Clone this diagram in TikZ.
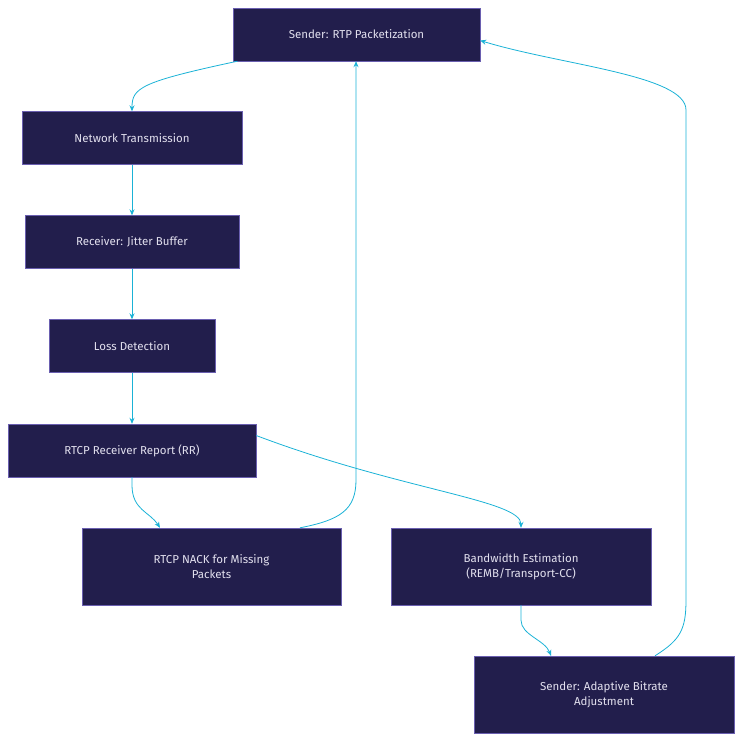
\documentclass[tikz,border=0pt]{standalone}
\usepackage{fontspec}
\setmainfont{Fira Sans}
\usetikzlibrary{arrows.meta}
\definecolor{boxfill}{HTML}{221E4C}
\definecolor{boxline}{HTML}{6A5FB0}
\definecolor{boxtext}{HTML}{E2E0EE}
\definecolor{flow}{HTML}{1AB2D6}
\tikzset{
  step/.style={draw=boxline,fill=boxfill,text=boxtext,font=\fontsize{11.5}{14.5}\selectfont,
    minimum height=#1,inner sep=0pt,align=center},
  step/.default=53pt,
  link/.style={flow,line width=0.8pt,-{Stealth[length=6pt,width=5pt]}}
}
\begin{document}
\begin{tikzpicture}[x=1pt,y=-1pt]
  \useasboundingbox (0,0) rectangle (742,742);
  \node[step,minimum width=247pt] (send) at (356.5,34.5) {Sender: RTP Packetization};
  \node[step,minimum width=220pt] (net) at (132,138) {Network Transmission};
  \node[step,minimum width=214pt] (jit) at (132,242) {Receiver: Jitter Buffer};
  \node[step,minimum width=166pt] (loss) at (132,346) {Loss Detection};
  \node[step,minimum width=248pt] (rr) at (132,450.5) {RTCP Receiver Report (RR)};
  \node[step=77pt,minimum width=259pt] (nack) at (211.5,566.5) {RTCP NACK for Missing\\Packets};
  \node[step=77pt,minimum width=260pt] (bwe) at (521,566.5) {Bandwidth Estimation\\(REMB/Transport-CC)};
  \node[step=77pt,minimum width=260pt] (abr) at (604,694.5) {Sender: Adaptive Bitrate\\Adjustment};
  % forward path
  \draw[link] ([xshift=-119pt]send.south) .. controls (140,82) and (132,88) .. (net.north);
  \draw[link] (net) -- (jit);
  \draw[link] (jit) -- (loss);
  \draw[link] (loss) -- (rr);
  \draw[link] (rr.south) -- ++(0,8) .. controls (132,510) and (150,512) .. ([xshift=-51.5pt]nack.north);
  \draw[link] ([yshift=15pt]rr.east) .. controls (400,490) and (521,500) .. (bwe.north);
  \draw[link] (bwe.south) -- ++(0,15) .. controls (521,635) and (545,640) .. ([xshift=-53pt]abr.north);
  % feedback
  \draw[link] ([xshift=88.5pt]nack.north) .. controls (340,520) and (356,510) .. (356,480) -- ([xshift=-0.5pt]send.south);
  \draw[link] ([xshift=51pt]abr.north) .. controls (680,640) and (686,630) .. (686,600)
    -- (686,110) .. controls (686,75) and (560,65) .. ([yshift=-6pt]send.east);
\end{tikzpicture}
\end{document}
